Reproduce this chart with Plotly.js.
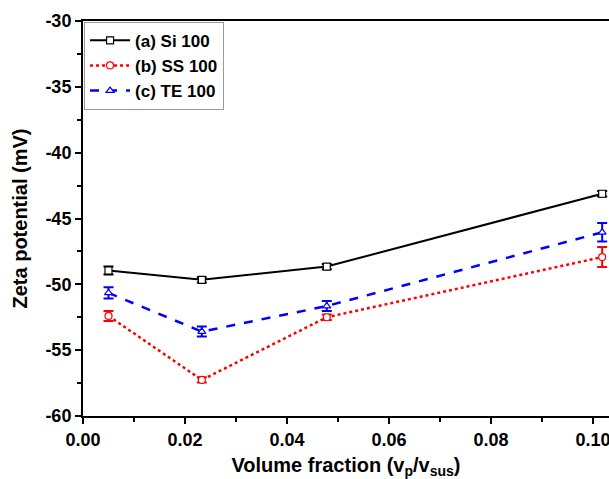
<!DOCTYPE html>
<html><head><meta charset="utf-8">
<script src="https://cdn.plot.ly/plotly-3.0.1.min.js"></script>
<style>body{margin:0;background:#fff}#c{width:609px;height:479px}</style>
</head><body><div id="c"></div>
<script>
const xSi = [0.005, 0.0233, 0.0478, 0.1018];
const ySi = [-48.95, -49.66, -48.65, -43.12];
const eSi = [0.3, 0.2, 0.2, 0.2];
const xSS = [0.005, 0.0233, 0.0478, 0.1018];
const ySS = [-52.4, -57.26, -52.5, -47.93];
const eSS = [0.38, 0.2, 0.2, 0.76];
const xTE = [0.005, 0.0233, 0.0478, 0.1018];
const yTE = [-50.65, -53.59, -51.65, -46.05];
const eTE = [0.42, 0.38, 0.38, 0.7];
const names = ['(a) Si 100', '(b) SS 100', '(c) TE 100'];
const xTicks = [0, 0.02, 0.04, 0.06, 0.08, 0.10];
const xTickText = ['0.00', '0.02', '0.04', '0.06', '0.08', '0.10'];
const yTicks = [-60, -55, -50, -45, -40, -35, -30];
const yTickText = ['-60', '-55', '-50', '-45', '-40', '-35', '-30'];

const FF = 'Liberation Sans, Arial, sans-serif';
function tr(x, y, e, name, color, dash, sym, lw) {
  return {
    x: x, y: y, name: name, type: 'scatter', mode: 'lines+markers',
    line: {color: color, width: lw, dash: dash},
    marker: {symbol: sym, size: 7, color: '#ffffff', line: {color: color, width: 1.2}},
    error_y: {type: 'data', array: e, visible: true, color: color, thickness: 2, width: 5}
  };
}
const data = [
  tr(xSi, ySi, eSi, names[0], '#000000', 'solid', 'square', 2),
  tr(xSS, ySS, eSS, names[1], '#ff0000', 'dot', 'circle', 2.5),
  tr(xTE, yTE, eTE, names[2], '#0000ff', 'dash', 'triangle-up', 2.5)
];
const tickFont = {family: FF, size: 18, color: '#000', weight: 'bold'};
const layout = {
  width: 609, height: 479,
  margin: {l: 83, r: 0, t: 21, b: 63},
  paper_bgcolor: '#fff', plot_bgcolor: '#fff',
  font: {family: FF, color: '#000'},
  showlegend: true,
  legend: {x: 0.002, y: 0.998, xanchor: 'left', yanchor: 'top', bgcolor: '#fff',
    bordercolor: '#999', borderwidth: 1,
    font: {family: FF, size: 17, color: '#000', weight: 'bold'},
    tracegroupgap: 0, itemwidth: 40},
  xaxis: {
    range: [0, 0.10314], showgrid: false, zeroline: false,
    showline: true, linecolor: '#000', linewidth: 2, mirror: true,
    ticks: 'outside', ticklen: 6, tickwidth: 2, tickcolor: '#000',
    tickvals: xTicks, ticktext: xTickText, tickfont: tickFont,
    ticklabeloverflow: 'allow',
    minor: {dtick: 0.01, tick0: 0, ticks: 'outside', ticklen: 4, tickwidth: 2, tickcolor: '#000', showgrid: false},
    title: {text: 'Volume fraction (v<sub>p</sub>/v<sub>sus</sub>)', standoff: 10,
      font: {family: FF, size: 20, color: '#000', weight: 'bold'}}
  },
  yaxis: {
    range: [-60, -30], showgrid: false, zeroline: false,
    showline: true, linecolor: '#000', linewidth: 2, mirror: false,
    ticks: 'outside', ticklen: 6, tickwidth: 2, tickcolor: '#000',
    tickvals: yTicks, ticktext: yTickText, tickfont: tickFont,
    minor: {dtick: 2.5, tick0: -60, ticks: 'outside', ticklen: 4, tickwidth: 2, tickcolor: '#000', showgrid: false},
    title: {text: 'Zeta potential (mV)', standoff: 12,
      font: {family: FF, size: 20, color: '#000', weight: 'bold'}}
  }
};
Plotly.newPlot('c', data, layout, {staticPlot: true, displayModeBar: false});
</script></body></html>
